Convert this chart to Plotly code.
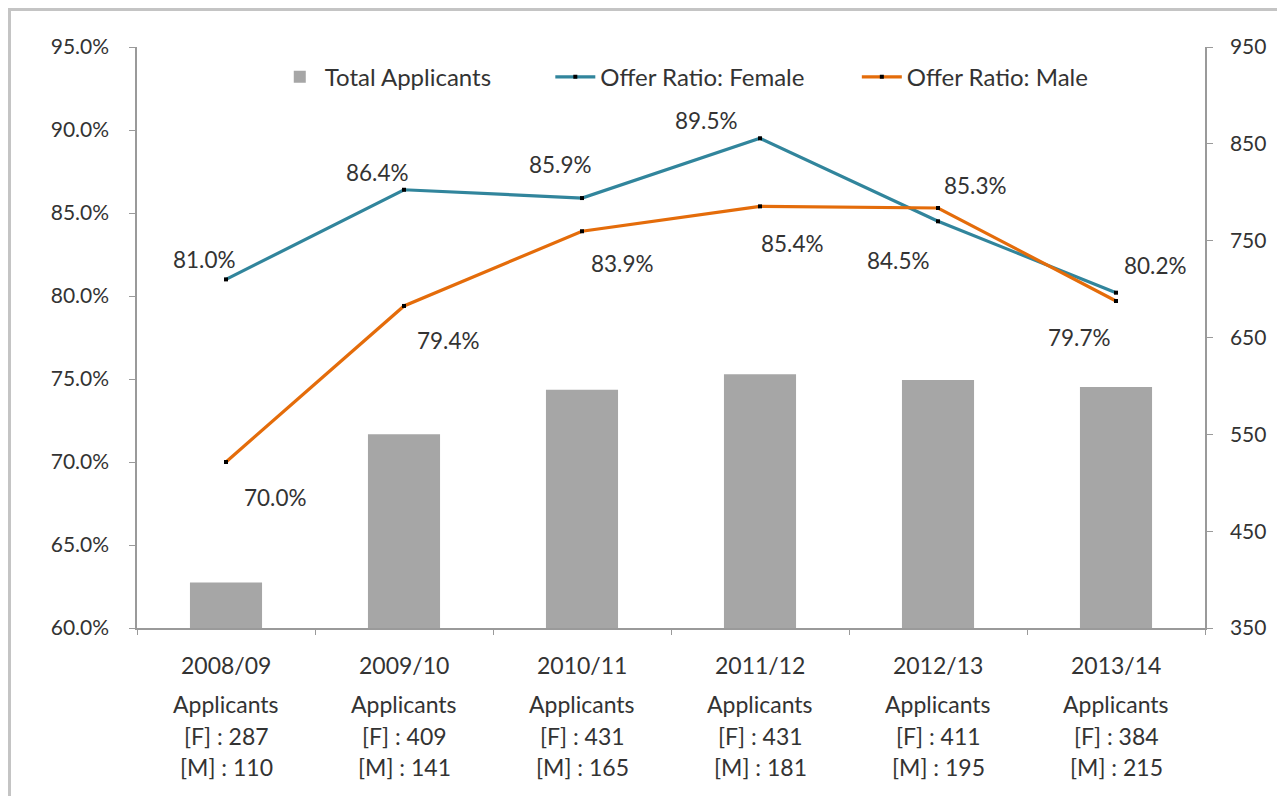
import plotly.graph_objects as go

years = ["2008/09", "2009/10", "2010/11", "2011/12", "2012/13", "2013/14"]
female_applicants = [287, 409, 431, 431, 411, 384]
male_applicants = [110, 141, 165, 181, 195, 215]
total_applicants = [f + m for f, m in zip(female_applicants, male_applicants)]
offer_female = [81.0, 86.4, 85.9, 89.5, 84.5, 80.2]
offer_male = [70.0, 79.4, 83.9, 85.4, 85.3, 79.7]

# label offsets (pixels) relative to each point
fem_off = [(-22, 20), (-27, 17), (-22, 34), (-54, 18), (-40, -39), (39, 27)]
male_off = [(49, -35), (44, -35), (40, -32), (32, -37), (37, 23), (-37, -37)]

FONT = "Lato, Open Sans, sans-serif"
TXT = "#333333"
AX = "#9a9a9a"
TEAL = "#31859C"
ORANGE = "#E46C0A"
GRAY = "#A6A6A6"

fig = go.Figure()
fig.add_trace(go.Bar(x=years, y=total_applicants, name="Total Applicants",
                     marker=dict(color=GRAY, line=dict(width=0)), yaxis="y",
                     legend="legend"))
fig.add_trace(go.Scatter(x=years, y=offer_female, name="Offer Ratio: Female",
                         mode="lines+markers", yaxis="y2", legend="legend2",
                         line=dict(color=TEAL, width=3.2),
                         marker=dict(symbol="square", size=4, color="black")))
fig.add_trace(go.Scatter(x=years, y=offer_male, name="Offer Ratio: Male",
                         mode="lines+markers", yaxis="y2", legend="legend3",
                         line=dict(color=ORANGE, width=3.2),
                         marker=dict(symbol="square", size=4, color="black")))

ann = []
for i, yv in enumerate(offer_female):
    dx, dy = fem_off[i]
    ann.append(dict(x=years[i], y=yv, xref="x", yref="y2", text=f"{yv:.1f}%",
                    showarrow=False, xshift=dx, yshift=dy,
                    font=dict(family=FONT, size=22.5, color=TXT)))
for i, yv in enumerate(offer_male):
    dx, dy = male_off[i]
    ann.append(dict(x=years[i], y=yv, xref="x", yref="y2", text=f"{yv:.1f}%",
                    showarrow=False, xshift=dx, yshift=dy,
                    font=dict(family=FONT, size=22.5, color=TXT)))
for i, yr in enumerate(years):
    lines = [(yr, -37), ("Applicants", -76), (f"[F] : {female_applicants[i]}", -108),
             (f"[M] : {male_applicants[i]}", -139)]
    for t, sh in lines:
        ann.append(dict(x=yr, y=0, xref="x", yref="paper", text=t, showarrow=False,
                        yanchor="middle", yshift=sh,
                        font=dict(family=FONT, size=23, color=TXT)))

# page has an 8px body margin; figure placed at (8, 8)
W, H = 1277, 788
L, T = 129, 39
R = W - (1205 - 8)
B = H - (628 - 8)
pw, ph = W - L - R, H - T - B
fig.add_shape(type="rect", xref="paper", yref="paper",
              x0=(1.5 - L) / pw, x1=(1272 - L) / pw,
              y0=(H - B - 800) / ph, y1=(H - B - 1.5) / ph,
              line=dict(color="#c4c4c4", width=3), fillcolor="rgba(0,0,0,0)", layer="above")

def leg(x):
    return dict(orientation="h", x=x, y=0.948, xanchor="left", yanchor="middle",
                font=dict(family=FONT, size=24, color=TXT), bgcolor="rgba(0,0,0,0)",
                itemwidth=40)

fig.update_layout(
    width=W, height=H,
    margin=dict(l=L, r=R, t=T, b=B),
    paper_bgcolor="white", plot_bgcolor="white",
    font=dict(family=FONT, size=22, color=TXT),
    bargap=0.595,
    showlegend=True,
    legend=leg(0.129),
    legend2=leg(0.387),
    legend3=leg(0.674),
    xaxis=dict(type="category", showgrid=False, showline=True, linecolor=AX, linewidth=1.5,
               ticks="outside", ticklen=5, tickcolor=AX, tickson="boundaries",
               showticklabels=False, mirror=False),
    yaxis=dict(range=[350, 950], tick0=350, dtick=100, side="right", showgrid=False,
               zeroline=False, showline=True, linecolor=AX, linewidth=1.5, ticks="outside",
               ticklen=6, tickcolor=AX, ticklabelstandoff=13,
               tickfont=dict(family=FONT, size=21, color=TXT)),
    yaxis2=dict(range=[60, 95], dtick=5, side="left", overlaying="y", showgrid=False,
                zeroline=False, showline=True, linecolor=AX, linewidth=1.5,
                ticks="outside", ticklen=6, tickcolor=AX, ticksuffix="%", tickformat=".1f",
                ticklabelstandoff=16,
                tickfont=dict(family=FONT, size=21, color=TXT)),
    annotations=ann,
)

fig.write_html("out.html")
